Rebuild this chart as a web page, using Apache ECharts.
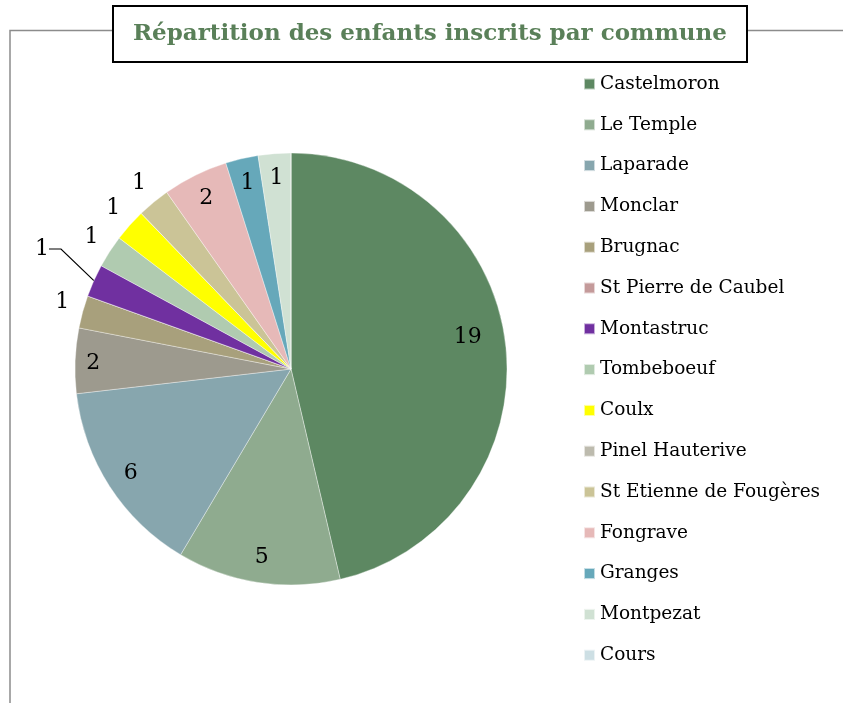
<!DOCTYPE html>
<html>
<head>
<meta charset="utf-8">
<script src="https://cdn.jsdelivr.net/npm/echarts@6/dist/echarts.min.js"></script>
<style>
  html, body { margin: 0; padding: 0; background: #fff; }
  #chart { width: 843px; height: 703px; }
</style>
</head>
<body>
<div id="chart"></div>
<script>
var communes = ['Castelmoron', 'Le Temple', 'Laparade', 'Monclar', 'Brugnac', 'St Pierre de Caubel',
  'Montastruc', 'Tombeboeuf', 'Coulx', 'Pinel Hauterive', 'St Etienne de Fougères', 'Fongrave',
  'Granges', 'Montpezat', 'Cours'];
var effectifs = [19, 5, 6, 2, 1, 0, 1, 1, 1, 0, 1, 2, 1, 1, 0];
var couleurs = ['#5d8862', '#8fab8f', '#87a6ae', '#9d9a8e', '#a8a07c', '#c49a9a',
  '#7030a0', '#b0cbb0', '#ffff00', '#bdbbae', '#cbc497', '#e6b9b8',
  '#66a8ba', '#d0e1d3', '#cddfe4'];
// labels placés hors du camembert (petites parts à gauche)
var horsPie = ['Brugnac', 'Montastruc', 'Tombeboeuf', 'Coulx', 'St Etienne de Fougères'];

var font = 'DejaVu Serif';

var pieData = communes.map(function(n, i) {
  return { name: n, value: effectifs[i], itemStyle: { color: couleurs[i] } };
});

var labelData = communes.map(function(n, i) {
  var d = { name: n, value: effectifs[i] };
  if (horsPie.indexOf(n) >= 0) {
    d.label = { position: 'outside' };
    if (n === 'Montastruc') {
      d.labelLine = { show: true, length: 28, length2: 12, lineStyle: { color: '#000', width: 1.2 } };
    }
  }
  return d;
});

var chart = echarts.init(document.getElementById('chart'), null, { renderer: 'canvas' });
chart.setOption({
  animation: false,
  color: couleurs,
  title: {
    text: 'Répartition des enfants inscrits par commune',
    left: 113, top: 6,
    padding: [15, 20],
    backgroundColor: '#fff',
    borderColor: '#000', borderWidth: 2,
    textStyle: { fontFamily: font, fontWeight: 'bold', fontSize: 23, color: '#5a8059', lineHeight: 26 },
    z: 10
  },
  graphic: [{
    type: 'polyline', z: 1, silent: true,
    shape: { points: [[10, 703], [10, 30.5], [843, 30.5]] },
    style: { stroke: '#8c8c8c', lineWidth: 1.5, fill: null }
  }],
  legend: {
    orient: 'vertical',
    left: 578, top: 69,
    itemWidth: 11, itemHeight: 11,
    itemGap: 20.8,
    icon: 'rect',
    data: communes,
    textStyle: { fontFamily: font, fontSize: 18.5, color: '#000', lineHeight: 20 }
  },
  series: [{
    type: 'pie',
    center: [291, 369],
    radius: [0, 216],
    startAngle: 90,
    clockwise: true,
    avoidLabelOverlap: false,
    label: { show: false },
    labelLine: { show: false },
    itemStyle: { borderColor: 'rgba(255,255,255,0.6)', borderWidth: 0.6 },
    emphasis: { disabled: true },
    data: pieData
  }, {
    type: 'pie',
    center: [291, 369],
    radius: [160, 216],
    startAngle: 90,
    clockwise: true,
    silent: true,
    avoidLabelOverlap: false,
    legendHoverLink: false,
    itemStyle: { color: 'rgba(0,0,0,0)', borderWidth: 0 },
    label: {
      show: true, position: 'inside',
      fontFamily: font, fontSize: 22, color: '#000',
      distanceToLabelLine: 3,
      formatter: function(p) { return p.value ? String(p.value) : ''; }
    },
    labelLine: { show: false, length: 18, length2: 0 },
    labelLayout: function(p) {
      var n = communes[p.dataIndex];
      if (n === 'Montastruc') return { x: 49, y: 249 };
      if (n === 'Castelmoron') return { dx: -13, dy: -10 };
      if (n === 'Monclar') return { dx: -7, dy: 2 };
      if (horsPie.indexOf(n) >= 0) return { dx: 7, dy: -5 };
      return {};
    },
    emphasis: { disabled: true },
    data: labelData
  }]
});
</script>
</body>
</html>
